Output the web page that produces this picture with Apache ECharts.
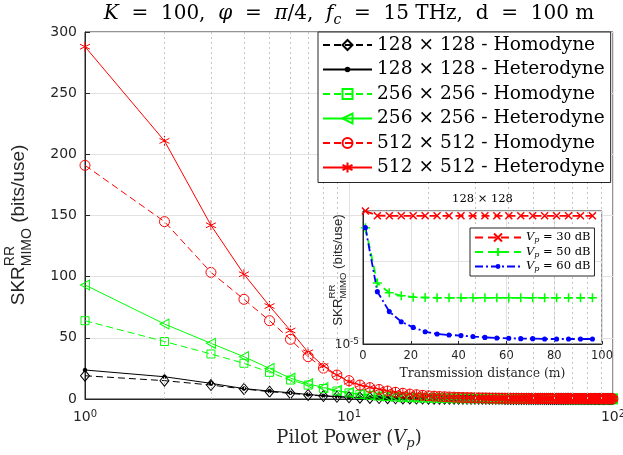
<!DOCTYPE html>
<html><head><meta charset="utf-8">
<script src="https://cdn.jsdelivr.net/npm/echarts@6/dist/echarts.min.js"></script>
<style>html,body{margin:0;padding:0;background:#fff}#c{width:623px;height:455px}</style>
</head><body><div id="c"></div>
<script>
// ---------- main chart data ----------
const pilotPower = [1,2,3,4,5,6,7,8,9,10,11,12,13,14,15,16,17,18,19,20,21,22,23,24,25,26,27,28,29,30,31,32,33,34,35,36,37,38,39,40,41,42,43,44,45,46,47,48,49,50,51,52,53,54,55,56,57,58,59,60,61,62,63,64,65,66,67,68,69,70,71,72,73,74,75,76,77,78,79,80,81,82,83,84,85,86,87,88,89,90,91,92,93,94,95,96,97,98,99,100];
const hom128 = [19,15,11.4,8.2,6,4.6,3.3,2.4,1.8,1.4,
1.1,0.9,0.76,0.65,0.56,0.49,0.44,0.39,0.35,0.32,
0.29,0.27,0.25,0.23,0.22,0.21,0.2,0.19,0.18,0.17,
0.16,0.16,0.15,0.15,0.14,0.14,0.13,0.13,0.12,0.12,
0.12,0.11,0.11,0.11,0.1,0.1,0.1,0.1,0.1,0.09,
0.09,0.09,0.09,0.09,0.09,0.08,0.08,0.08,0.08,0.08,
0.08,0.08,0.08,0.08,0.08,0.08,0.08,0.08,0.08,0.08,
0.07,0.07,0.07,0.07,0.07,0.07,0.07,0.07,0.07,0.07,
0.07,0.07,0.07,0.07,0.07,0.06,0.06,0.06,0.06,0.06,
0.06,0.06,0.06,0.06,0.06,0.06,0.06,0.06,0.06,0.06];
const het128 = [23.7,18.2,12.8,8.5,6.5,5.1,3.7,2.7,2.0,1.5,
1.2,1.0,0.85,0.72,0.62,0.54,0.48,0.43,0.39,0.35,
0.32,0.3,0.28,0.26,0.24,0.23,0.22,0.21,0.2,0.19,
0.18,0.17,0.17,0.16,0.15,0.15,0.14,0.14,0.13,0.13,
0.13,0.12,0.12,0.12,0.11,0.11,0.11,0.11,0.1,0.1,
0.1,0.1,0.1,0.09,0.09,0.09,0.09,0.09,0.09,0.08,
0.08,0.08,0.08,0.08,0.08,0.08,0.08,0.08,0.08,0.08,
0.07,0.07,0.07,0.07,0.07,0.07,0.07,0.07,0.07,0.07,
0.07,0.07,0.07,0.07,0.07,0.07,0.07,0.07,0.07,0.07,
0.07,0.07,0.07,0.07,0.07,0.06,0.06,0.06,0.06,0.06];
const hom256 = [64,47,36.8,29.2,21.8,15.5,11.4,8.6,6.5,5,
3.8,3.0,2.4,2.0,1.7,1.45,1.27,1.12,1.0,0.9,
0.82,0.75,0.69,0.64,0.6,0.56,0.52,0.49,0.46,0.44,
0.42,0.4,0.38,0.36,0.35,0.34,0.33,0.32,0.31,0.3,
0.29,0.28,0.27,0.26,0.26,0.25,0.24,0.24,0.23,0.23,
0.22,0.22,0.21,0.21,0.2,0.2,0.19,0.19,0.19,0.18,
0.18,0.18,0.17,0.17,0.17,0.17,0.16,0.16,0.16,0.16,
0.15,0.15,0.15,0.15,0.15,0.14,0.14,0.14,0.14,0.14,
0.14,0.13,0.13,0.13,0.13,0.13,0.13,0.12,0.12,0.12,
0.12,0.12,0.12,0.12,0.11,0.11,0.11,0.11,0.11,0.11];
const het256 = [93.2,61.3,45.5,34.6,25,17,12.5,9.4,7,5.2,
3.9,3.1,2.5,2.1,1.8,1.55,1.35,1.2,1.05,0.95,
0.86,0.79,0.73,0.68,0.63,0.59,0.55,0.52,0.49,0.46,
0.44,0.42,0.4,0.38,0.37,0.35,0.34,0.33,0.32,0.31,
0.3,0.29,0.28,0.27,0.27,0.26,0.25,0.25,0.24,0.24,
0.23,0.23,0.22,0.22,0.21,0.21,0.2,0.2,0.2,0.19,
0.19,0.19,0.18,0.18,0.18,0.18,0.17,0.17,0.17,0.17,
0.16,0.16,0.16,0.16,0.16,0.15,0.15,0.15,0.15,0.15,
0.15,0.14,0.14,0.14,0.14,0.14,0.14,0.13,0.13,0.13,
0.13,0.13,0.13,0.13,0.12,0.12,0.12,0.12,0.12,0.12];
const hom512 = [191,145,103.5,81.5,64,48.8,34.6,25.2,19.6,15,
11.4,9.3,7.8,6.5,5.5,4.7,4.0,3.5,3.0,2.6,
2.3,2.05,1.85,1.65,1.5,1.35,1.25,1.15,1.05,0.98,
0.92,0.87,0.82,0.78,0.74,0.7,0.67,0.64,0.61,0.59,
0.57,0.55,0.53,0.51,0.49,0.47,0.46,0.45,0.44,0.43,
0.42,0.41,0.4,0.39,0.38,0.37,0.36,0.35,0.35,0.34,
0.34,0.33,0.33,0.32,0.32,0.31,0.31,0.3,0.3,0.29,
0.29,0.29,0.28,0.28,0.28,0.27,0.27,0.27,0.26,0.26,
0.26,0.25,0.25,0.25,0.25,0.24,0.24,0.24,0.24,0.23,
0.23,0.23,0.23,0.22,0.22,0.22,0.22,0.22,0.21,0.21];
const het512 = [288,211,142,102,76,56,38.2,27,19.6,14,
11.4,9.5,8.0,6.7,5.7,4.9,4.2,3.6,3.1,2.7,
2.4,2.1,1.9,1.7,1.55,1.4,1.3,1.2,1.1,1.0,
0.95,0.9,0.85,0.8,0.76,0.72,0.69,0.66,0.63,0.6,
0.58,0.56,0.54,0.52,0.5,0.48,0.47,0.46,0.45,0.44,
0.43,0.42,0.41,0.4,0.39,0.38,0.37,0.36,0.36,0.35,
0.35,0.34,0.34,0.33,0.33,0.32,0.32,0.31,0.31,0.3,
0.3,0.3,0.29,0.29,0.29,0.28,0.28,0.28,0.27,0.27,
0.27,0.26,0.26,0.26,0.26,0.25,0.25,0.25,0.25,0.24,
0.24,0.24,0.24,0.23,0.23,0.23,0.23,0.23,0.22,0.22];
const seriesNames = ['128 × 128 - Homodyne','128 × 128 - Heterodyne','256 × 256 - Homodyne','256 × 256 - Heterodyne','512 × 512 - Homodyne','512 × 512 - Heterodyne'];
const yTicks = [0, 300, 50];          // min, max, step
const xMinorGrid = [2,3,4,5,6,7,8,9,20,30,40,50,60,70,80,90];

// ---------- inset data ----------
const insetDistance = [1,6,11,16,21,26,31,36,41,46,51,56,61,66,71,76,81,86,91,96];
const vp30 = [1000,520,515,515,515,515,515,515,515,515,515,515,515,515,515,515,515,515,515,515];
const vp50 = [100,0.046,0.0123,0.0081,0.0066,0.0062,0.006,0.006,0.006,0.006,0.006,0.006,0.006,0.006,0.006,0.006,0.006,0.006,0.006,0.006];
const vp60 = [100,0.0141,8.9e-4,2.2e-4,1.0e-4,5.5e-5,4.0e-5,3.5e-5,3.2e-5,2.8e-5,2.5e-5,2.3e-5,2.2e-5,2.1e-5,2.1e-5,2.0e-5,2.0e-5,2.0e-5,2.0e-5,2.0e-5];
const insetNames = ['V_p = 30 dB','V_p = 50 dB','V_p = 60 dB'];

// ---------- helpers ----------
const SANS = 'Liberation Sans';
const TICK = 'DejaVu Sans';
const SERIF = 'DejaVu Serif';
const AX = '#262626';
const mctx = document.createElement('canvas').getContext('2d');
function tw(t, s, f) { mctx.font = s + 'px "' + f + '"'; return mctx.measureText(t).width; }
function yLabel(cx, cy, big, small, zz) {
  const w1 = tw('SKR', big, SANS), w2 = Math.max(tw('RR', small, SANS), tw('MIMO', small, SANS)), w3 = tw(' (bits/use)', big, SANS);
  const x0 = -(w1 + w2 + w3) / 2;
  const st = (t, s) => ({text: t, fontSize: s, fontFamily: SANS, fill: AX, verticalAlign: 'middle', align: 'left'});
  return {type: 'group', x: cx, y: cy, rotation: Math.PI / 2, z: zz, children: [
    {type: 'text', z: zz, x: x0, y: 0, style: st('SKR', big)},
    {type: 'text', z: zz, x: x0 + w1, y: -big * 0.45, style: st('RR', small)},
    {type: 'text', z: zz, x: x0 + w1, y: big * 0.42, style: st('MIMO', small)},
    {type: 'text', z: zz, x: x0 + w1 + w2, y: 0, style: st(' (bits/use)', big)}
  ]};
}
const pairs = (xs, ys) => xs.map((x, i) => [x, ys[i]]);
const CLEAR = 'rgba(0,0,0,0)';
const SYM_ASTER = 'path://M0,-10L0,10M-8.66,-5L8.66,5M-8.66,5L8.66,-5';
const SYM_TRI = 'path://M-9,0L9,-10L9,10Z';
const SYM_X = 'path://M-1,-1L1,1M-1,1L1,-1';
const SYM_PLUS = 'path://M0,-1L0,1M-1,0L1,0';
const SYM_DOT = 'path://M-5,-5M5,5M-1.8,0A1.8,1.8,0,1,1,1.8,0A1.8,1.8,0,1,1,-1.8,0Z';

function mainSeries(name, ys, color, dashed, symbol, size, filled) {
  return {
    name, type: 'line', xAxisIndex: 0, yAxisIndex: 0, z: 2,
    data: pairs(pilotPower, ys), symbol, symbolSize: size, clip: false,
    lineStyle: {color, width: 1, type: dashed ? [7, 4] : 'solid'},
    itemStyle: {color: filled ? color : CLEAR, borderColor: color, borderWidth: 1},
    emphasis: {disabled: true}
  };
}
function insetSeries(name, ys, color, dash, symbol, size, filled) {
  return {
    name, type: 'line', xAxisIndex: 1, yAxisIndex: 1, z: 5,
    data: pairs(insetDistance, ys), symbol, symbolSize: size, clip: false,
    lineStyle: {color, width: 1.8, type: dash},
    itemStyle: {color: filled ? color : CLEAR, borderColor: color, borderWidth: 1.5},
    emphasis: {disabled: true}
  };
}

const supRich = (b, s) => ({
  b: {fontSize: b, fontFamily: TICK, color: AX, lineHeight: b + 1, verticalAlign: 'bottom'},
  s: {fontSize: s, fontFamily: TICK, color: AX, lineHeight: s + 1, verticalAlign: 'top'}
});

const chart = echarts.init(document.getElementById('c'), null, {renderer: 'canvas'});
const option = {
  animation: false,
  backgroundColor: '#fff',
  grid: [
    {left: 85, top: 32, width: 528, height: 367, show: true, borderColor: AX, borderWidth: 1, z: 0, outerBoundsMode: 'none', containLabel: false},
    {left: 363, top: 211, width: 239, height: 133, show: true, backgroundColor: '#fff', borderColor: AX, borderWidth: 1, z: 3, outerBoundsMode: 'none', containLabel: false}
  ],
  xAxis: [
    {type: 'log', logBase: 10, gridIndex: 0, min: 1, max: 100, z: 1,
     axisLine: {lineStyle: {color: AX}}, axisTick: {inside: true, length: 5, lineStyle: {color: AX}},
     axisLabel: {margin: 10, formatter: v => '{b|10}{s|' + Math.round(Math.log10(v)) + '}', rich: supRich(14, 10)},
     splitLine: {show: true, lineStyle: {color: '#e2e2e2', width: 1}}},
    {type: 'value', gridIndex: 1, min: 0, max: 100, interval: 20, z: 4,
     axisLine: {lineStyle: {color: AX}}, axisTick: {inside: true, length: 3, lineStyle: {color: AX}},
     axisLabel: {margin: 6, color: AX, fontFamily: TICK, fontSize: 11.5},
     splitLine: {show: true, lineStyle: {color: '#e2e2e2'}},
     name: 'Transmission distance (m)', nameLocation: 'middle', nameGap: 24,
     nameTextStyle: {fontFamily: SERIF, fontSize: 12.4, color: AX}}
  ],
  yAxis: [
    {type: 'value', gridIndex: 0, min: yTicks[0], max: yTicks[1], interval: yTicks[2], z: 1,
     axisLine: {lineStyle: {color: AX}}, axisTick: {inside: true, length: 5, lineStyle: {color: AX}},
     axisLabel: {margin: 8, color: AX, fontFamily: TICK, fontSize: 14},
     splitLine: {show: true, lineStyle: {color: '#e2e2e2'}}},
    {type: 'log', logBase: 10, gridIndex: 1, min: 1e-5, max: 1e3, splitNumber: 2, z: 4,
     axisLine: {lineStyle: {color: AX}}, axisTick: {show: false},
     axisLabel: {margin: 4, formatter: v => (Math.abs(Math.log10(v) + 5) < 0.01 ? '{b|10}{s|-5}' : ''), rich: supRich(12, 9)},
     splitLine: {show: true, lineStyle: {color: '#e2e2e2'}}}
  ],
  legend: [
    {orient: 'vertical', left: 318, top: 32, z: 6, data: seriesNames,
     backgroundColor: '#fff', borderColor: AX, borderWidth: 1, padding: [3, 6, 5, 4],
     itemWidth: 49, itemHeight: 12.5, itemGap: 4.5, selectedMode: false,
     textStyle: {fontFamily: SERIF, fontSize: 18.6, color: '#000', lineHeight: 20}},
    {orient: 'vertical', left: 470, top: 228, z: 6, data: insetNames,
     backgroundColor: '#fff', borderColor: AX, borderWidth: 1, padding: [3, 4, 3, 4],
     itemWidth: 46, itemHeight: 10, itemGap: 1.5, selectedMode: false,
     formatter: n => n.replace('V_p', '{i|V}{sub|p}'),
     textStyle: {fontFamily: SERIF, fontSize: 11.5, color: '#000', lineHeight: 13,
       rich: {i: {fontFamily: SERIF, fontStyle: 'italic', fontSize: 11.5, lineHeight: 13, verticalAlign: 'middle'},
              sub: {fontFamily: SERIF, fontStyle: 'italic', fontSize: 8, lineHeight: 8, verticalAlign: 'bottom'}}}}
  ],
  series: [
    {name: 'minorgrid', type: 'line', xAxisIndex: 0, yAxisIndex: 0, z: 1, data: [], silent: true,
     markLine: {silent: true, symbol: 'none', label: {show: false},
       lineStyle: {color: '#c4c4c4', type: [2, 3], width: 1},
       data: xMinorGrid.map(v => ({xAxis: v}))}},
    mainSeries(seriesNames[0], hom128, '#000000', true, 'diamond', [9, 11], false),
    mainSeries(seriesNames[1], het128, '#000000', false, SYM_DOT, 10, true),
    mainSeries(seriesNames[2], hom256, '#00ff00', true, 'rect', 8, false),
    mainSeries(seriesNames[3], het256, '#00ff00', false, SYM_TRI, [9, 10], false),
    mainSeries(seriesNames[4], hom512, '#ff0000', true, 'circle', 10, false),
    mainSeries(seriesNames[5], het512, '#ff0000', false, SYM_ASTER, 10, false),
    insetSeries(insetNames[0], vp30, '#ff0000', [8, 5], SYM_X, 7, false),
    insetSeries(insetNames[1], vp50, '#00ff00', [8, 5], SYM_PLUS, 9, false),
    insetSeries(insetNames[2], vp60, '#0000ff', [8, 3, 2, 3], SYM_DOT, 10, true)
  ],
  graphic: [
    {type: 'text', x: 349, y: 14, z: 10, style: {
      text: '{i|K}  =  100,  {i|φ}  =  {i|π}/4,  {i|f}{sub|c}  =  15 THz,  d  =  100 m',
      fontFamily: SERIF, fontSize: 20, fill: '#000', align: 'center', verticalAlign: 'middle',
      rich: {i: {fontFamily: SERIF, fontSize: 20, fontStyle: 'italic', lineHeight: 26, verticalAlign: 'middle'},
             sub: {fontFamily: SERIF, fontSize: 14, fontStyle: 'italic', lineHeight: 14, verticalAlign: 'bottom'}}}},
    {type: 'text', x: 349, y: 438, z: 10, style: {
      text: 'Pilot Power ({i|V}{sub|p})',
      fontFamily: SERIF, fontSize: 18, fill: AX, align: 'center', verticalAlign: 'middle',
      rich: {i: {fontFamily: SERIF, fontSize: 18, fontStyle: 'italic', lineHeight: 24, verticalAlign: 'middle'},
             sub: {fontFamily: SERIF, fontSize: 13, fontStyle: 'italic', lineHeight: 12, verticalAlign: 'bottom'}}}},
    {type: 'text', x: 482.5, y: 199, z: 10, style: {text: '128 × 128', fontFamily: SERIF, fontSize: 11.5, fill: '#000', align: 'center', verticalAlign: 'middle'}},
    yLabel(19, 225, 19, 14, 10),
    yLabel(338, 270, 13.3, 9.5, 10)
  ]
};
chart.setOption(option);
</script>
</body></html>
